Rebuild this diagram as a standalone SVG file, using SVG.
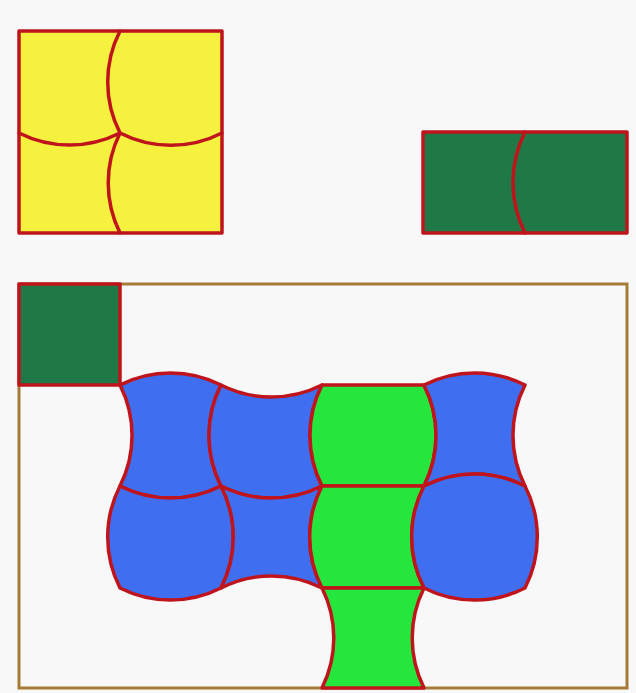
<svg xmlns="http://www.w3.org/2000/svg" width="636" height="693" viewBox="0 0 636 693">
<style>
.t{stroke:#c0141c;stroke-width:3.5;stroke-linejoin:round;stroke-linecap:round}
.y{fill:#f6f03e}
.dg{fill:#217847}
.b{fill:#3f6ff0}
.g{fill:#25e63c}
.ln{fill:none}
.fr{fill:none;stroke:#a57b37;stroke-width:3}
</style>
<rect width="636" height="693" fill="#f8f8f8"/>
<g id="yellow-square">
<rect class="t y" x="19" y="31" width="203" height="202"/>
<path class="t ln" d="M120,31 A112,112 0 0 0 120,133 A112,112 0 0 0 120,233 M19,133 A112,112 0 0 0 120,133 A112,112 0 0 0 222,133"/>
</g>
<g id="green-rect">
<rect class="t dg" x="423" y="132" width="204" height="101"/>
<path class="t ln" d="M525,132 A112,112 0 0 0 525,233"/>
</g>
<g id="frame">
<rect class="fr" x="19" y="284" width="608" height="404"/>
</g>
<g id="green-small">
<rect class="t dg" x="19" y="284" width="101" height="101"/>
</g>
<g id="cell-r1c1"><path class="t b" d="M120,385 A112,112 0 0 1 221,385 A112,112 0 0 0 221,486 A112,112 0 0 1 120,486 A112,112 0 0 0 120,385 Z"/></g>
<g id="cell-r1c2"><path class="t b" d="M221,385 A112,112 0 0 0 322,385 A112,112 0 0 0 322,486 A112,112 0 0 1 221,486 A112,112 0 0 1 221,385 Z"/></g>
<g id="cell-r1c3"><path class="t g" d="M322,385 L424,385 A112,112 0 0 1 424,486 L322,486 A112,112 0 0 1 322,385 Z"/></g>
<g id="cell-r1c4"><path class="t b" d="M424,385 A112,112 0 0 1 525,385 A112,112 0 0 0 525,486 A112,112 0 0 0 424,486 A112,112 0 0 0 424,385 Z"/></g>
<g id="cell-r2c1"><path class="t b" d="M120,486 A112,112 0 0 0 221,486 A112,112 0 0 1 221,588 A112,112 0 0 1 120,588 A112,112 0 0 1 120,486 Z"/></g>
<g id="cell-r2c2"><path class="t b" d="M221,486 A112,112 0 0 0 322,486 A112,112 0 0 0 322,588 A112,112 0 0 0 221,588 A112,112 0 0 0 221,486 Z"/></g>
<g id="cell-r2c3"><path class="t g" d="M322,486 L424,486 A112,112 0 0 0 424,588 L322,588 A112,112 0 0 1 322,486 Z"/></g>
<g id="cell-r2c4"><path class="t b" d="M424,486 A112,112 0 0 1 525,486 A112,112 0 0 1 525,588 A112,112 0 0 1 424,588 A112,112 0 0 1 424,486 Z"/></g>
<g id="cell-r3c3"><path class="t g" d="M322,588 L424,588 A112,112 0 0 0 424,688 L322,688 A112,112 0 0 0 322,588 Z"/></g>
</svg>
